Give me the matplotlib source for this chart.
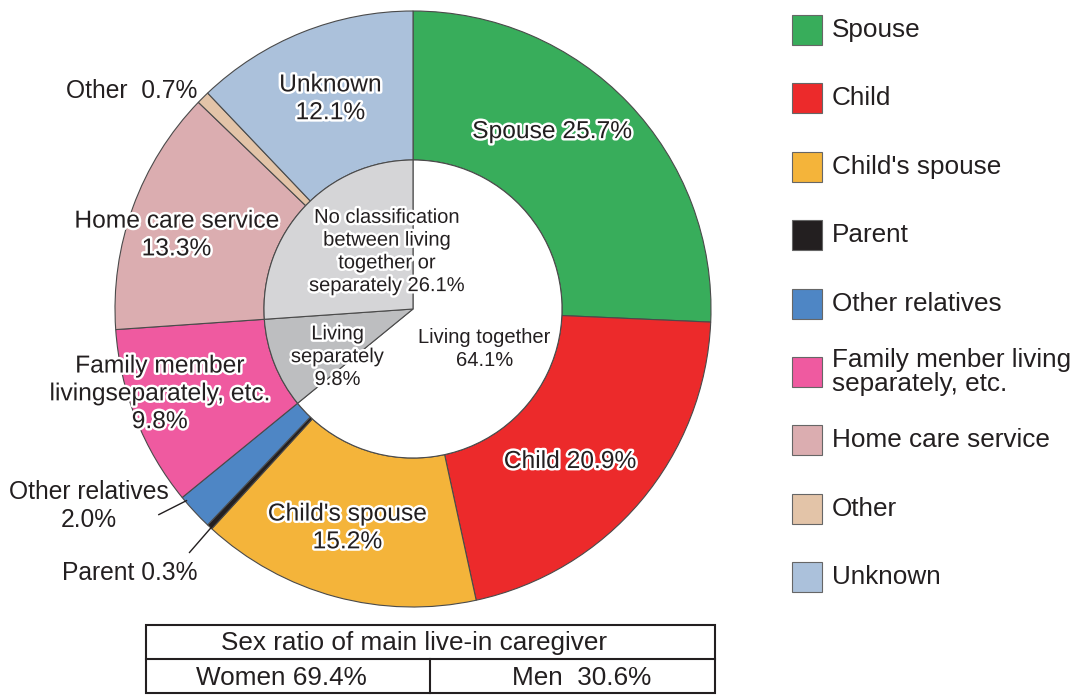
import matplotlib
matplotlib.use('Agg')
import matplotlib.pyplot as plt
import matplotlib.patheffects as pe
from matplotlib.patches import Rectangle

plt.rcParams['font.family'] = ['Liberation Sans', 'DejaVu Sans']

# outer ring: who is the main caregiver
categories = ['Spouse', 'Child', "Child's spouse", 'Parent', 'Other relatives',
              'Family member living separately, etc.', 'Home care service', 'Other', 'Unknown']
shares = [25.7, 20.9, 15.2, 0.3, 2.0, 9.8, 13.3, 0.7, 12.1]
colors = ['#38ad5b', '#ec2a2b', '#f4b43a', '#231f20', '#4e86c5',
          '#ef5aa0', '#dbadb0', '#e3c4a8', '#abc1db']
legend_labels = ['Spouse', 'Child', "Child's spouse", 'Parent', 'Other relatives',
                 'Family menber living\nseparately, etc.', 'Home care service', 'Other', 'Unknown']
slice_labels = ['Spouse 25.7%', 'Child 20.9%', "Child's spouse\n15.2%", 'Parent 0.3%',
                'Other relatives\n2.0%', 'Family member\nlivingseparately, etc.\n9.8%',
                'Home care service\n13.3%', 'Other  0.7%', 'Unknown\n12.1%']

# inner pie: living arrangement
living = ['Living together', 'Living separately', 'No classification']
living_shares = [64.1, 9.8, 26.1]
living_colors = ['white', '#bdbec0', '#d5d5d7']
living_labels = ['Living together\n64.1%', 'Living\nseparately\n9.8%',
                 'No classification\nbetween living\ntogether or\nseparately 26.1%']

# sex ratio table
sex = ['Women', 'Men']
sex_shares = [69.4, 30.6]

TXT = '#231f20'
EDGE = '#4a4a4a'
halo = [pe.withStroke(linewidth=3.5, foreground='white')]

fig = plt.figure(figsize=(10.88, 6.95), dpi=100)

ax = fig.add_axes([115/1088, 88/695, 596/1088, 596/695])
ax.pie(shares, colors=colors, radius=1.0, startangle=90, counterclock=False,
       wedgeprops=dict(width=0.5, edgecolor=EDGE, linewidth=0.8))
ax.pie(living_shares, colors=living_colors, radius=0.5, startangle=90, counterclock=False,
       wedgeprops=dict(edgecolor=EDGE, linewidth=0.8))
ax.set_xlim(-1, 1)
ax.set_ylim(-1, 1)
ax.set_aspect('auto')

# label positions (pie data coords) and whether they get a white halo
label_pos = [(0.467, 0.597), (0.527, -0.51), (-0.22, -0.733), (-0.95, -0.887),
             (-1.087, -0.66), (-0.85, -0.283), (-0.793, 0.25), (-0.943, 0.73), (-0.277, 0.707)]
label_halo = [True, True, True, False, False, True, True, False, True]
for lab, (x, y), h in zip(slice_labels, label_pos, label_halo):
    ax.text(x, y, lab, ha='center', va='center', fontsize=17.7, color=TXT,
            linespacing=1.2, path_effects=halo if h else None)

# leader lines for the thin slices
ax.plot([-0.853, -0.76], [-0.69, -0.643], color=TXT, lw=1)
ax.plot([-0.75, -0.677], [-0.817, -0.733], color=TXT, lw=1)

inner_pos = [(0.24, -0.133), (-0.253, -0.16), (-0.087, 0.193)]
inner_halo = [False, True, True]
for lab, (x, y), h in zip(living_labels, inner_pos, inner_halo):
    ax.text(x, y, lab, ha='center', va='center', fontsize=14.5, color=TXT,
            linespacing=1.25, path_effects=halo if h else None)

# overlay in pixel coords for legend and table
ov = fig.add_axes([0, 0, 1, 1])
ov.set_xlim(0, 1088)
ov.set_ylim(695, 0)
ov.axis('off')

step = 68.4
for i, (lab, c) in enumerate(zip(legend_labels, colors)):
    yc = 30 + i * step
    ov.add_patch(Rectangle((792, yc - 15), 30, 30, facecolor=c, edgecolor='#666666', lw=0.8))
    ov.text(832, yc, lab, ha='left', va='center', fontsize=18.8, color=TXT, linespacing=1.0)

ov.add_patch(Rectangle((146, 625), 569, 68, facecolor='none', edgecolor=TXT, lw=1.5))
ov.plot([146, 715], [659, 659], color=TXT, lw=1.5)
ov.plot([430, 430], [659, 693], color=TXT, lw=1.5)
ov.text(414, 643, 'Sex ratio of main live-in caregiver', ha='center', va='center',
        fontsize=18.8, color=TXT)
ov.text(281, 678, f'{sex[0]} {sex_shares[0]}%', ha='center', va='center', fontsize=18.8, color=TXT)
ov.text(582, 678, f'{sex[1]}  {sex_shares[1]}%', ha='center', va='center', fontsize=18.8, color=TXT)

fig.savefig('out.png', dpi=100)
